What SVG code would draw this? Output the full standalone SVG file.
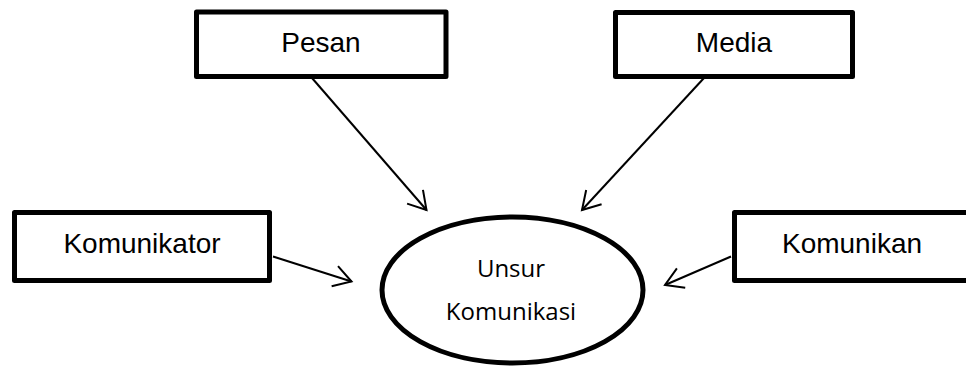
<svg xmlns="http://www.w3.org/2000/svg" width="966" height="374" viewBox="0 0 966 374">
  <defs>
    <style>
      .box { fill: #ffffff; stroke: #000000; stroke-width: 5; stroke-linejoin: round; }
      .lbl { font-family: "Liberation Sans", Arial, sans-serif; font-size: 28px; fill: #000000; text-anchor: middle; }
      .elab { font-family: "Open Sans", "Noto Sans", sans-serif; font-size: 24px; fill: #000000; text-anchor: middle; }
      .conn { fill: none; stroke: #000000; stroke-width: 2; }
    </style>
    <marker id="arrow" markerUnits="userSpaceOnUse" viewBox="-22 -13 25 26" markerWidth="25" markerHeight="26" refX="0" refY="0" orient="auto">
      <path d="M -17.5,-10.5 L 0,0 L -17.5,10.5" fill="none" stroke="#000000" stroke-width="2" stroke-linejoin="miter"/>
    </marker>
  </defs>
  <rect width="966" height="374" fill="#ffffff"/>

  <g id="connectors">
    <line class="conn" x1="312" y1="78" x2="426.5" y2="210" marker-end="url(#arrow)"/>
    <line class="conn" x1="704" y1="78" x2="582" y2="210" marker-end="url(#arrow)"/>
    <line class="conn" x1="273" y1="256.5" x2="351.5" y2="281.5" marker-end="url(#arrow)"/>
    <line class="conn" x1="731" y1="256.5" x2="665" y2="285" marker-end="url(#arrow)"/>
  </g>

  <g id="node-pesan">
    <rect class="box" x="196.5" y="12" width="249.5" height="64.5"/>
    <text class="lbl" x="321" y="52">Pesan</text>
  </g>

  <g id="node-media">
    <rect class="box" x="615.5" y="12.5" width="237" height="64"/>
    <text class="lbl" x="734" y="52">Media</text>
  </g>

  <g id="node-komunikator">
    <rect class="box" x="14.5" y="212.5" width="255" height="68"/>
    <text class="lbl" x="142" y="253">Komunikator</text>
  </g>

  <g id="node-komunikan">
    <rect class="box" x="734.5" y="212.5" width="240" height="68"/>
    <text class="lbl" x="852" y="253">Komunikan</text>
  </g>

  <g id="node-unsur">
    <ellipse cx="512.5" cy="290" rx="130.5" ry="73" fill="#ffffff" stroke="#000000" stroke-width="5"/>
    <text class="elab" x="511" y="277">Unsur</text>
    <text class="elab" x="511" y="320">Komunikasi</text>
  </g>
</svg>
